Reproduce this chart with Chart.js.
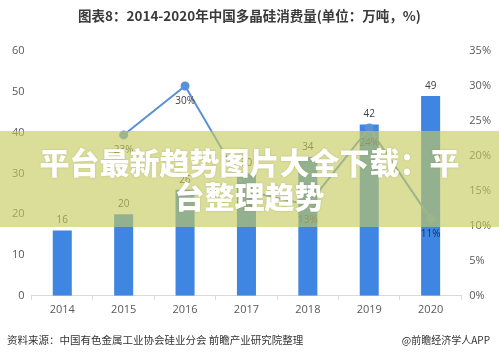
<!DOCTYPE html>
<html>
<head>
<meta charset="utf-8">
<script src="https://cdn.jsdelivr.net/npm/chart.js@4.4.1/dist/chart.umd.min.js"></script>
<style>
  html, body { margin: 0; padding: 0; background: #fff; }
  #wrap { position: relative; width: 499px; height: 359px; overflow: hidden; font-family: "Noto Sans CJK SC", sans-serif; }
  #chart { position: absolute; left: 0; top: 0; }
  .title { position: absolute; top: 5px; left: 0; width: 499px; text-align: center; font-size: 13.5px; font-weight: bold; color: #3a3a3a; }
  .source { position: absolute; top: 332px; left: 7px; font-size: 10.5px; color: #333; }
  .app { position: absolute; top: 332px; right: 9px; font-size: 10px; color: #333; }
  .banner { position: absolute; left: 0; top: 131px; width: 499px; height: 96px; background: rgba(198, 202, 94, 0.63); }
  .banner div { position: absolute; left: 0; width: 499px; text-align: center; color: #fff; font-size: 30px; font-weight: 900; line-height: 34px; text-shadow: 0 0 2px rgba(90, 90, 40, 0.3); }
</style>
</head>
<body>
<div id="wrap">
  <canvas id="chart" width="499" height="359"></canvas>
  <div class="title">图表8：2014-2020年中国多晶硅消费量(单位：万吨，%)</div>
  <div class="banner">
    <div style="top: 13px;">平台最新趋势图片大全下载：平</div>
    <div style="top: 47px;">台整理趋势</div>
  </div>
  <div class="source">资料来源：中国有色金属工业协会硅业分会 前瞻产业研究院整理</div>
  <div class="app">@前瞻经济学人APP</div>
</div>
<script>
const years = ['2014', '2015', '2016', '2017', '2018', '2019', '2020'];
const consumption = [16, 20, 26, 30, 34, 42, 49];
const growthRate = [null, 23, 30, 15, 13, 24, 11];
const leftAxisMax = 60;
const leftAxisStep = 10;
const rightAxisMax = 35;
const rightAxisStep = 5;

// value labels: bars above, line below its points
const valueLabels = {
    id: 'valueLabels',
    afterDatasetsDraw(chart) {
        const ctx = chart.ctx;
        ctx.save();
        ctx.font = '10px "Open Sans", sans-serif';
        ctx.textAlign = 'center';
        ctx.textBaseline = 'middle';

        const barMeta = chart.getDatasetMeta(1);
        barMeta.data.forEach((bar, i) => {
            ctx.fillStyle = '#404040';
            ctx.fillText(consumption[i], bar.x, bar.y - 10);
        });

        const lineMeta = chart.getDatasetMeta(0);
        lineMeta.data.forEach((pt, i) => {
            if (growthRate[i] === null) return;
            ctx.fillStyle = i === 6 ? '#14305e' : '#404040';
            ctx.fillText(growthRate[i] + '%', pt.x, pt.y + 15);
        });
        ctx.restore();
    }
};

const ctx = document.getElementById('chart').getContext('2d');
new Chart(ctx, {
    data: {
        labels: years,
        datasets: [{
            type: 'line',
            label: '增速',
            data: growthRate,
            yAxisID: 'y2',
            borderColor: '#5b8fd8',
            backgroundColor: '#5b8fd8',
            borderWidth: 2,
            pointRadius: 3.5,
            pointHoverRadius: 3.5,
            tension: 0,
            spanGaps: false,
            order: 0
        }, {
            type: 'bar',
            label: '消费量',
            data: consumption,
            yAxisID: 'y',
            backgroundColor: '#3f86e3',
            barPercentage: 0.31,
            categoryPercentage: 1,
            order: 1
        }]
    },
    options: {
        responsive: false,
        animation: false,
        layout: { padding: { top: 51, left: 5, right: 0, bottom: 40 } },
        plugins: {
            legend: { display: false },
            tooltip: { enabled: false }
        },
        scales: {
            x: {
                grid: { display: true, drawOnChartArea: false, drawTicks: true, tickLength: 4, color: '#d9d9d9' },
                border: { display: true, color: '#d9d9d9' },
                ticks: { color: '#595959', font: { size: 11, family: '"Open Sans", sans-serif' }, padding: 3 }
            },
            y: {
                position: 'left',
                min: 0,
                max: leftAxisMax,
                ticks: { stepSize: leftAxisStep, color: '#595959', font: { size: 11, family: '"Open Sans", sans-serif' }, padding: 7 },
                grid: { display: false, drawTicks: false },
                border: { display: false }
            },
            y2: {
                position: 'right',
                min: 0,
                max: rightAxisMax,
                ticks: { stepSize: rightAxisStep, color: '#595959', font: { size: 11, family: '"Open Sans", sans-serif' }, padding: 8, callback: v => v + '%' },
                grid: { display: false, drawTicks: false },
                border: { display: false }
            }
        }
    },
    plugins: [valueLabels]
});
</script>
</body>
</html>
